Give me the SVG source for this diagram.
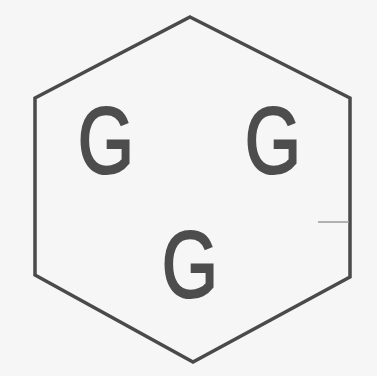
<svg xmlns="http://www.w3.org/2000/svg" width="377" height="376" viewBox="0 0 377 376">
<style>
.hex{fill:none;stroke:#4a4a4a;stroke-width:3.5;stroke-linejoin:miter}
.g{font-family:"Liberation Sans",Arial,sans-serif;font-size:94px;fill:#4d4d4d;stroke:#4d4d4d;stroke-width:2.2;text-anchor:middle}
</style>
<rect width="377" height="376" fill="#f6f6f6"/>
<g id="hexagon">
<polygon class="hex" points="190,17 350,98 350,277 193,362 35,275 35,98"/>
<line x1="318" y1="222" x2="349" y2="222" stroke="#9a9a9a" stroke-width="1.5"/>
</g>
<g id="g1"><text class="g" transform="translate(106,173) scale(0.77,1)">G</text></g>
<g id="g2"><text class="g" transform="translate(273,173) scale(0.77,1)">G</text></g>
<g id="g3"><text class="g" transform="translate(190,297) scale(0.77,1)">G</text></g>
</svg>
